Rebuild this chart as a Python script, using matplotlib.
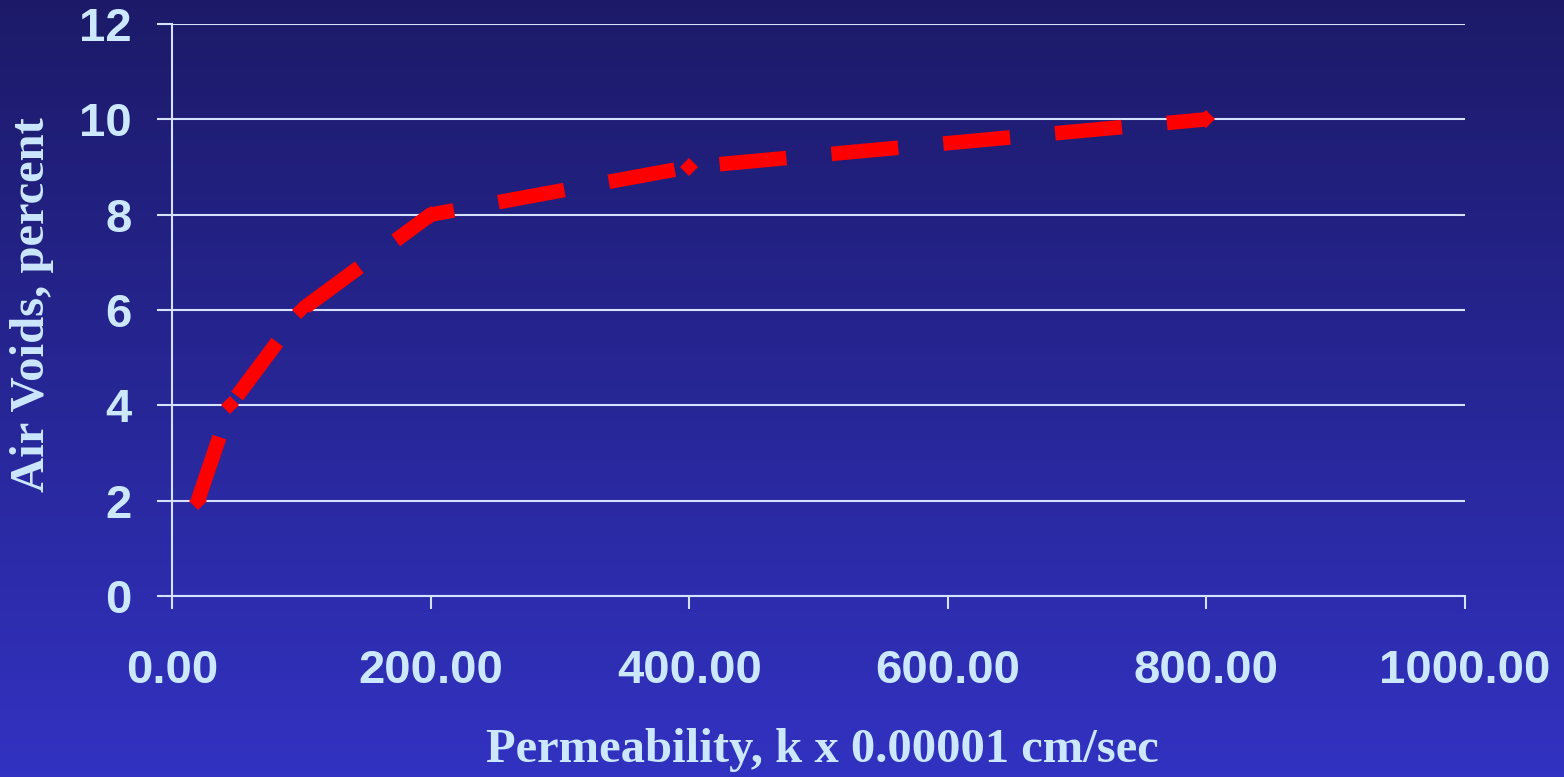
import numpy as np
import matplotlib
matplotlib.use("Agg")
import matplotlib.pyplot as plt

# data
permeability = [20, 45, 100, 200, 400, 800]
air_voids = [2, 4, 6, 8, 9, 10]
x_ticks = [0, 200, 400, 600, 800, 1000]
y_ticks = [0, 2, 4, 6, 8, 10, 12]

txt_col = "#cce8ff"
grid_col = "#d4e2ff"

fig = plt.figure(figsize=(15.64, 7.77), dpi=100)

# background gradient, dark navy at the top to blue at the bottom
bg = fig.add_axes([0, 0, 1, 1], zorder=-10)
grad = np.linspace(0, 1, 256).reshape(-1, 1)
top = np.array([28, 26, 104]) / 255
bot = np.array([50, 50, 194]) / 255
img = top + grad[..., None] * (bot - top)
img = np.repeat(img, 2, axis=1)
bg.imshow(img, aspect="auto", extent=[0, 1, 0, 1], origin="upper")
bg.axis("off")

ax = fig.add_axes([172/1564, 1-596/777, (1465-172)/1564, (596-24)/777])
ax.patch.set_alpha(0)

ax.plot(permeability, air_voids, color="red", lw=10.5, dashes=(4.6, 3.1),
        dash_capstyle="butt", solid_joinstyle="miter",
        marker="D", markersize=9.5, markeredgewidth=0)

ax.set_xlim(0, 1000)
ax.set_ylim(0, 12)
ax.set_xticks(x_ticks)
ax.set_xticklabels(["%.2f" % v for v in x_ticks])
ax.set_yticks(y_ticks)

ax.grid(axis="y", color=grid_col, lw=1.5)
ax.set_axisbelow(True)
for s in ["top", "right"]:
    ax.spines[s].set_visible(False)
for s in ["left", "bottom"]:
    ax.spines[s].set_color(grid_col)
    ax.spines[s].set_linewidth(1.5)

ax.tick_params(axis="y", direction="out", length=11, width=1.5, color=grid_col,
               pad=18, labelsize=34, labelcolor=txt_col)
ax.tick_params(axis="x", direction="out", length=9, width=1.5, color=grid_col,
               pad=29, labelsize=34, labelcolor=txt_col)
for lab in ax.get_xticklabels() + ax.get_yticklabels():
    lab.set_fontfamily("Liberation Sans")
    lab.set_fontweight("bold")

fig.text(822/1564, 1-750/777, "Permeability, k x 0.00001 cm/sec",
         ha="center", va="center", fontsize=35, fontweight="bold",
         family="Liberation Serif", color=txt_col)
fig.text(32/1564, 1-305/777, "Air Voids, percent", rotation=90,
         ha="center", va="center", fontsize=35, fontweight="bold",
         family="Liberation Serif", color=txt_col)

fig.savefig("out.png", dpi=100)
